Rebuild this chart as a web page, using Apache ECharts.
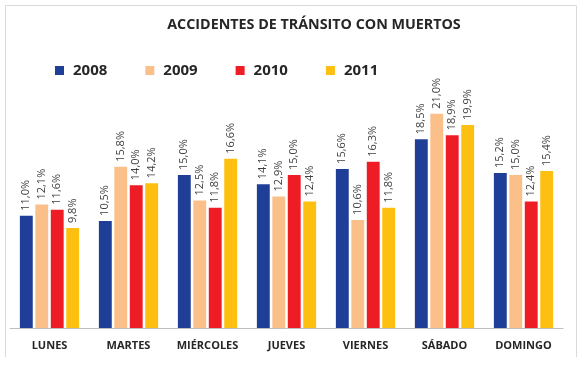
<!DOCTYPE html>
<html>
<head>
<meta charset="utf-8">
<script src="https://cdn.jsdelivr.net/npm/echarts@6/dist/echarts.min.js"></script>
<style>
html, body { margin: 0; padding: 0; background: #fff; }
#chart { width: 585px; height: 375px; }
</style>
</head>
<body>
<div id="chart"></div>
<script>
var dias = ['LUNES', 'MARTES', 'MIÉRCOLES', 'JUEVES', 'VIERNES', 'SÁBADO', 'DOMINGO'];
var anios = ['2008', '2009', '2010', '2011'];
var v2008 = [11.0, 10.5, 15.0, 14.1, 15.6, 18.5, 15.2];
var v2009 = [12.1, 15.8, 12.5, 12.9, 10.6, 21.0, 15.0];
var v2010 = [11.6, 14.0, 11.8, 15.0, 16.3, 18.9, 12.4];
var v2011 = [9.8, 14.2, 16.6, 12.4, 11.8, 19.9, 15.4];
var colores = ['#1f3e97', '#fbbf8a', '#ee1c25', '#fdc010'];

var chart = echarts.init(document.getElementById('chart'));

function serie(nombre, datos) {
	return {
		name: nombre,
		type: 'bar',
		barGap: '20%',
		barCategoryGap: '25%',
		data: datos,
		label: {
			show: true,
			position: 'top',
			rotate: 90,
			align: 'left',
			verticalAlign: 'middle',
			distance: 5,
			fontFamily: 'Open Sans',
			fontSize: 11,
			color: '#404040',
			formatter: function (p) {
				return p.value.toFixed(1).replace('.', ',') + '%';
			}
		}
	};
}

var option = {
	color: colores,
	animation: false,
	title: {
		text: 'ACCIDENTES DE TRÁNSITO CON MUERTOS',
		left: 309,
		textAlign: 'center',
		top: 13,
		textStyle: {
			fontFamily: 'Open Sans',
			fontSize: 14.3,
			fontWeight: 'bold',
			color: '#262626'
		}
	},
	legend: {
		data: anios,
		left: 50,
		top: 58,
		itemWidth: 9,
		itemHeight: 9,
		itemGap: 38,
		icon: 'rect',
		textStyle: {
			fontFamily: 'Open Sans',
			fontSize: 15,
			fontWeight: 'bold',
			color: '#262626',
			padding: [0, 0, 0, 4]
		}
	},
	// marco sin borde inferior
	graphic: [{
		type: 'polyline',
		shape: { points: [[5.5, 357], [5.5, 5.5], [576.5, 5.5], [576.5, 357]] },
		style: { fill: 'none', stroke: '#d9d9d9', lineWidth: 1 }
	}],
	grid: {
		left: 10,
		right: 22,
		top: 73,
		bottom: 47
	},
	xAxis: {
		type: 'category',
		data: dias,
		axisLine: { lineStyle: { color: '#bfbfbf', width: 1 } },
		axisTick: { show: false },
		axisLabel: {
			interval: 0,
			margin: 12,
			fontFamily: 'Open Sans',
			fontSize: 11,
			fontWeight: 'bold',
			color: '#262626'
		}
	},
	yAxis: {
		type: 'value',
		min: 0,
		max: 25,
		show: false,
		splitLine: { show: false }
	},
	series: [
		serie('2008', v2008),
		serie('2009', v2009),
		serie('2010', v2010),
		serie('2011', v2011)
	]
};
chart.setOption(option);
</script>
</body>
</html>
